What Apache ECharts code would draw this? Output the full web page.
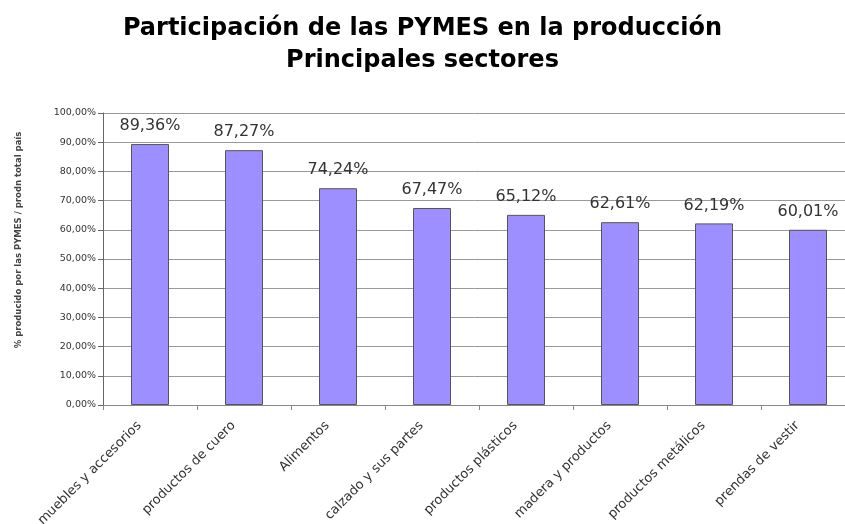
<!DOCTYPE html>
<html>
<head>
<meta charset="utf-8">
<script src="https://cdn.jsdelivr.net/npm/echarts@6/dist/echarts.min.js"></script>
<style>
  html, body { margin: 0; padding: 0; background: #fff; }
  #chart { width: 845px; height: 524px; }
</style>
</head>
<body>
<div id="chart"></div>
<script>
const sectores = [
  'muebles y accesorios', 'productos de cuero', 'Alimentos', 'calzado y sus partes',
  'productos plásticos', 'madera y productos', 'productos metálicos', 'prendas de vestir'
]
const participacion = [89.36, 87.27, 74.24, 67.47, 65.12, 62.61, 62.19, 60.01]

const pct = (v) => v.toFixed(2).replace('.', ',') + '%'

const chart = echarts.init(document.getElementById('chart'))

chart.setOption({
  animation: false,
  textStyle: { fontFamily: 'DejaVu Sans, sans-serif' },
  title: {
    text: 'Participación de las PYMES en la producción\nPrincipales sectores',
    left: 'center',
    top: 8,
    padding: [5, 10, 5, 0],
    textStyle: {
      fontSize: 24,
      fontWeight: 'bold',
      color: '#000',
      lineHeight: 32,
      fontFamily: 'DejaVu Sans, sans-serif'
    }
  },
  // el área de trazado sigue más allá del borde derecho, como en el original
  grid: {
    left: 103,
    top: 113,
    width: 752,
    height: 292,
    outerBoundsMode: 'none'
  },
  xAxis: {
    type: 'category',
    data: sectores,
    axisLine: { lineStyle: { color: '#888' } },
    axisTick: { show: true, length: 5, lineStyle: { color: '#888' } },
    axisLabel: {
      rotate: 45,
      interval: 0,
      fontSize: 13,
      color: '#333',
      margin: 8,
      padding: [0, 15, 0, 0]
    }
  },
  yAxis: {
    type: 'value',
    min: 0,
    max: 100,
    interval: 10,
    name: '% producido por las PYMES / prodn total país',
    nameLocation: 'middle',
    nameGap: 80,
    nameTextStyle: { fontSize: 8.5, fontWeight: 'bold', color: '#444', padding: [0, 0, 0, 38] },
    axisLine: { show: true, lineStyle: { color: '#666' } },
    axisTick: { show: true, length: 5, inside: false, lineStyle: { color: '#666' } },
    axisLabel: {
      fontSize: 9.5,
      color: '#333',
      margin: 7,
      formatter: pct
    },
    splitLine: { lineStyle: { color: '#999', width: 1 } }
  },
  series: [{
    type: 'bar',
    data: participacion,
    barWidth: 38,
    itemStyle: {
      color: '#9d8fff',
      borderColor: '#555',
      borderWidth: 1
    },
    label: {
      show: true,
      position: 'top',
      distance: 10,
      fontSize: 16,
      color: '#333',
      formatter: (p) => pct(p.value)
    }
  }]
})
</script>
</body>
</html>
